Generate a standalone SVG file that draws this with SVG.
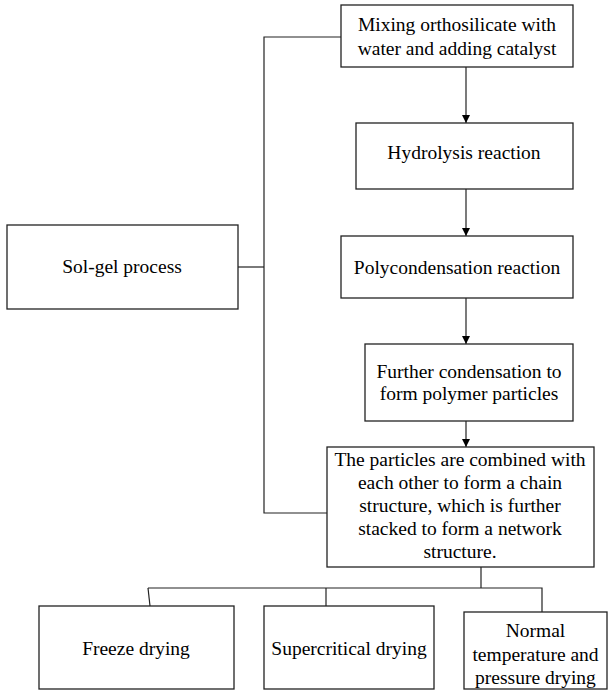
<svg xmlns="http://www.w3.org/2000/svg" width="608" height="693" viewBox="0 0 608 693">
<style>
.box{fill:#fff;stroke:#222;stroke-width:1.3}
.t{font-family:"Liberation Serif","Times New Roman",serif;font-size:19.5px;fill:#000;text-anchor:middle}
.c{fill:none;stroke:#222;stroke-width:1.2}
</style>
<defs>
<marker id="ah" viewBox="0 0 10 10" refX="10" refY="5" markerWidth="8" markerHeight="10" markerUnits="userSpaceOnUse" orient="auto">
<path d="M0,0 L10,5 L0,10 Z" fill="#000"/>
</marker>
</defs>
<rect width="608" height="693" fill="#fff"/>
<g id="connectors">
<path class="c" d="M341,37 H264 V513 H327"/>
<path class="c" d="M238,267 H264"/>
<path class="c" d="M466,67 V123" marker-end="url(#ah)"/>
<path class="c" d="M466,189 V236" marker-end="url(#ah)"/>
<path class="c" d="M466,298 V344" marker-end="url(#ah)"/>
<path class="c" d="M466,421 V447" marker-end="url(#ah)"/>
<path class="c" d="M481,567 V588"/>
<path class="c" d="M148,588 H542 V612"/>
<path class="c" d="M148,588 L150,606"/>
<path class="c" d="M326,588 V606"/>
</g>
<g id="n1"><rect class="box" x="341" y="5" width="232" height="62"/>
<text class="t" x="457" y="31">Mixing orthosilicate with</text>
<text class="t" x="457" y="55">water and adding catalyst</text></g>
<g id="n2"><rect class="box" x="356" y="123" width="217" height="66"/>
<text class="t" x="464" y="159">Hydrolysis reaction</text></g>
<g id="n3"><rect class="box" x="341" y="236" width="232" height="62"/>
<text class="t" x="457" y="274">Polycondensation reaction</text></g>
<g id="n4"><rect class="box" x="365" y="344" width="208" height="77"/>
<text class="t" x="469" y="378">Further condensation to</text>
<text class="t" x="469" y="400">form polymer particles</text></g>
<g id="n5"><rect class="box" x="327" y="447" width="267" height="120"/>
<text class="t" x="460" y="466">The particles are combined with</text>
<text class="t" x="460" y="489">each other to form a chain</text>
<text class="t" x="460" y="512">structure, which is further</text>
<text class="t" x="460" y="535">stacked to form a network</text>
<text class="t" x="460" y="558">structure.</text></g>
<g id="n0"><rect class="box" x="7" y="225" width="231" height="84"/>
<text class="t" x="122" y="273">Sol-gel process</text></g>
<g id="n6"><rect class="box" x="39" y="606" width="195" height="83"/>
<text class="t" x="136" y="655">Freeze drying</text></g>
<g id="n7"><rect class="box" x="264" y="606" width="170" height="83"/>
<text class="t" x="349" y="655">Supercritical drying</text></g>
<g id="n8"><rect class="box" x="464" y="612" width="143" height="77"/>
<text class="t" x="535.5" y="637">Normal</text>
<text class="t" x="535.5" y="661">temperature and</text>
<text class="t" x="535.5" y="684">pressure drying</text></g>
</svg>
